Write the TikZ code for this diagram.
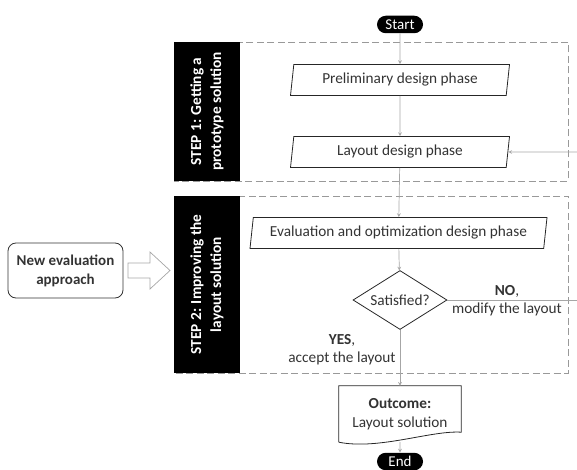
\documentclass[tikz,border=0pt]{standalone}
\usepackage{fontspec}
\setmainfont{Carlito}
\usepackage{xcolor}
\usetikzlibrary{shapes.geometric,shapes.misc,calc}

\definecolor{inkgray}{HTML}{333333}
\definecolor{linegray}{HTML}{A6A6A6}

\tikzset{
    txt/.style={font=\fontsize{15.3}{19}\selectfont, text=inkgray},
    phase/.style={txt, trapezium, trapezium left angle=76, trapezium right angle=104,
        trapezium stretches body, draw=black!85, line width=0.8pt,
        minimum width=219pt, minimum height=31pt, inner sep=0pt},
    terminal/.style={rounded rectangle, fill=black, text=white, inner sep=0pt,
        minimum width=46pt, minimum height=17.5pt, font=\fontsize{15}{16}\selectfont},
    decision/.style={txt, diamond, aspect=1.6, draw=black!85, line width=0.8pt,
        minimum width=94pt, minimum height=59pt, inner sep=0pt},
    stepbar/.style={fill=black, text=white, rotate=90, align=center, inner sep=0pt,
        minimum height=66pt, font=\bfseries\fontsize{15.3}{20}\selectfont},
    frame/.style={draw=gray!80, line width=0.8pt, dash pattern=on 7pt off 3.5pt},
    flow/.style={draw=linegray, line width=0.7pt, ->, >=stealth},
    note/.style={txt, align=center, font=\fontsize{15.3}{18}\selectfont},
}

\begin{document}
\begin{tikzpicture}[x=1pt,y=-1pt]
    \useasboundingbox (0,0) rectangle (577,470);

    % the two steps
    \draw[frame] (174,42) rectangle (568,181);
    \draw[frame] (174,196) rectangle (568,373);
    \node[stepbar, minimum width=139pt] (step1) at (207,111.5) {STEP 1: Getting a\\prototype solution};
    \node[stepbar, minimum width=177pt] (step2) at (207,284.5) {STEP 2: Improving the\\layout solution};

    % flow
    \node[terminal] (start) at (400,24.5) {Start};
    \node[phase] (pre) at (400,80) {Preliminary design phase};
    \node[phase] (lay) at (400,152) {Layout design phase};
    \node[phase, minimum width=297pt] (eva) at (398.5,233) {Evaluation and optimization design phase};
    \node[decision] (sat) at (400,300) {Satisfied?};
    \node[txt, align=center, minimum width=122pt, minimum height=56pt, inner sep=0pt] (out) at (400,414)
        {\textbf{Outcome:}\\Layout solution};
    \draw[draw=black!85, line width=0.8pt] (out.south west) -- (out.north west) -- (out.north east)
        -- ($(out.south east)+(0,-10)$) .. controls +(-30,-2) and +(40,8) .. (out.south west);
    \node[terminal] (end) at (400,461.5) {End};

    \foreach \a/\b in {start/pre, pre/lay, lay/eva, eva/sat, sat/out, out/end}
        \draw[flow] (\a) -- (\b);

    % loop back
    \coordinate (noend) at (577,300);
    \coordinate (back) at (577,152);
    \draw[flow, -] (sat) -- (noend);
    \draw[flow] (back) -- (lay);

    \node[note] (nolbl) at (507,301) {\textbf{NO},\\modify the layout};
    \node[note] (yeslbl) at (342,349.5) {\textbf{YES},\\accept the layout};

    % new approach
    \node[txt, align=center, draw=black!80, line width=0.8pt, rounded corners=8pt,
        minimum width=115pt, minimum height=55pt, font=\bfseries\fontsize{15}{19}\selectfont]
        (neweval) at (65.5,270.5) {New evaluation\\approach};
    \draw[draw=gray!70, line width=0.7pt] (128,263) -- (150,263) -- (150,252) -- (170,270.5)
        -- (150,289) -- (150,278) -- (128,278) -- cycle;
\end{tikzpicture}
\end{document}
